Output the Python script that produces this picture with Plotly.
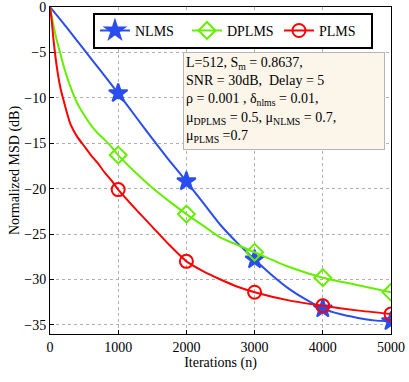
import plotly.graph_objects as go

# ---- data ----
iters_plms = [0, 25, 50, 100, 150, 200, 300, 400, 500, 600, 700, 800, 900, 1000, 1250, 1500, 1750, 2000,
              2250, 2500, 2750, 3000, 3500, 4000, 4500, 5000]
msd_plms = [0, -1.5, -3.5, -6.6, -8.8, -10.3, -12.9, -14.3, -15.3, -16.3, -17.2, -18.2, -19.1, -20.1,
            -22.2, -24.2, -26.2, -28.0, -29.1, -30.0, -30.8, -31.4, -32.3, -32.9, -33.4, -33.8]

iters_dplms = [0, 50, 100, 150, 200, 300, 400, 500, 600, 700, 800, 900, 1000, 1250, 1500, 1750, 2000,
               2250, 2500, 2750, 3000, 3500, 4000, 4500, 5000]
msd_dplms = [0, -2.0, -3.7, -5.1, -6.5, -8.8, -10.6, -11.9, -13.0, -13.9, -14.6, -15.4, -16.3, -18.2,
             -19.9, -21.4, -22.8, -24.1, -25.4, -26.2, -27.0, -28.6, -29.8, -30.6, -31.4]

iters_nlms = [0, 250, 500, 750, 1000, 1250, 1500, 1750, 2000, 2250, 2500, 2750, 3000, 3250, 3500, 3750,
              4000, 4250, 4500, 4750, 5000]
msd_nlms = [0, -2.3, -4.7, -7.1, -9.5, -12.0, -14.5, -16.9, -19.2, -21.6, -24.0, -26.0, -27.8, -29.5,
            -31.0, -32.2, -33.2, -33.8, -34.2, -34.5, -34.6]

marker_iters = [1000, 2000, 3000, 4000, 5000]
x_ticks = [0, 1000, 2000, 3000, 4000, 5000]
y_ticks = [0, -5, -10, -15, -20, -25, -30, -35]
y_tick_labels = ["0", "−5", "−10", "−15", "−20", "−25", "−30", "−35"]

series = [
    ("NLMS", iters_nlms, msd_nlms, "#2a4df0", "star", 14),
    ("DPLMS", iters_dplms, msd_dplms, "#66ee00", "diamond-open", 13),
    ("PLMS", iters_plms, msd_plms, "#ff0000", "circle-open", 13),
]

FONT = "Liberation Serif"
fig = go.Figure()
for name, xs, ys, col, sym, msz in series:
    fig.add_trace(go.Scatter(x=xs, y=ys, mode="lines",
                             line=dict(color=col, width=2, shape="spline", smoothing=0.6),
                             showlegend=False, hoverinfo="skip"))
    my = [ys[xs.index(m)] for m in marker_iters]
    fig.add_trace(go.Scatter(x=marker_iters, y=my, mode="markers",
                             marker=dict(symbol=sym, size=msz, color=col,
                                         line=dict(color=col, width=2)),
                             showlegend=False, hoverinfo="skip"))
for name, xs, ys, col, sym, msz in series:
    fig.add_trace(go.Scatter(x=[None], y=[None], mode="lines+markers", name=name,
                             line=dict(color=col, width=2),
                             marker=dict(symbol=sym, size=msz, color=col,
                                         line=dict(color=col, width=2))))

ann_text = ("L=512, S<sub>m</sub> = 0.8637,<br>"
            "SNR = 30dB,  Delay = 5<br>"
            "ρ = 0.001 , δ<sub>nlms</sub> = 0.01,<br>"
            "μ<sub>DPLMS</sub> = 0.5, μ<sub>NLMS</sub> = 0.7,<br>"
            "μ<sub>PLMS</sub> =0.7")
fig.add_annotation(x=0.39, y=0.862, xref="paper", yref="paper", xanchor="left", yanchor="top",
                   text=ann_text, showarrow=False, align="left",
                   font=dict(family=FONT, size=14, color="black"),
                   bgcolor="#fcf5ea", bordercolor="#b5b5b5", borderwidth=1, borderpad=2,
                   width=196, height=92, valign="top")

axis_common = dict(showline=True, linecolor="black", linewidth=1, mirror=True, ticks="inside",
                   ticklen=4, tickcolor="black", showgrid=True, gridcolor="#b0b0b0", griddash="dot",
                   gridwidth=1, zeroline=False, automargin=False, ticklabeloverflow="allow",
                   tickfont=dict(family=FONT, size=14, color="black"))

fig.update_layout(
    width=409, height=382,
    margin=dict(l=50, r=18, t=7, b=48),
    paper_bgcolor="white", plot_bgcolor="white",
    font=dict(family=FONT, size=14, color="black"),
    xaxis=dict(range=[0, 5000], tickvals=x_ticks, ticktext=[str(v) for v in x_ticks],
               title=dict(text="Iterations (n)", standoff=2, font=dict(family=FONT, size=14)),
               **axis_common),
    yaxis=dict(range=[-36, 0], tickvals=y_ticks, ticktext=y_tick_labels,
               title=dict(text="Normalized MSD (dB)", standoff=1, font=dict(family=FONT, size=14)),
               **axis_common),
    legend=dict(orientation="h", x=0.126, y=0.982, xanchor="left", yanchor="top",
                bgcolor="white", bordercolor="black", borderwidth=2,
                font=dict(family=FONT, size=14, color="black"),
                entrywidth=47, entrywidthmode="pixels",
                tracegroupgap=0),
)

fig.write_html("out.html", config={"displayModeBar": False},
               post_script="document.body.style.margin='0';")
